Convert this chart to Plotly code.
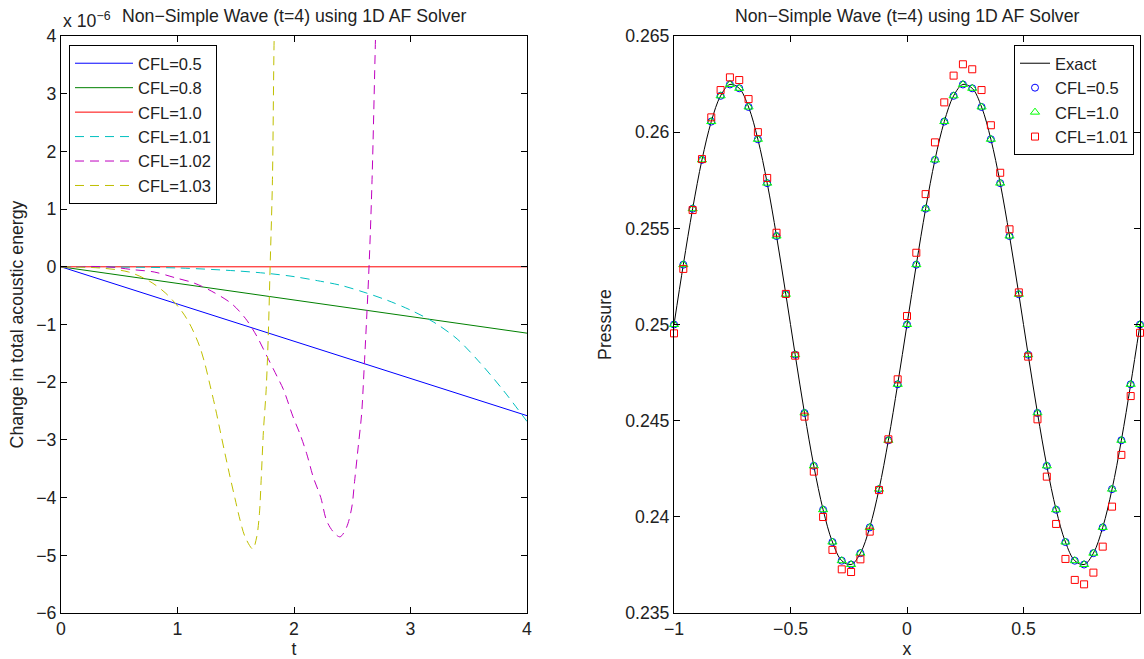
import plotly.graph_objects as go

# ---------------- Left panel data (values in units of 1e-6) ----------------
t_cfl05 = [0.0, 4.0]
e_cfl05 = [0.0, -2.58]
t_cfl08 = [0.0, 4.0]
e_cfl08 = [0.0, -1.15]
t_cfl10 = [0.0, 4.0]
e_cfl10 = [0.0, 0.0]
t_cfl101 = [0.0, 0.5, 1.0, 1.5, 1.8, 2.0, 2.2, 2.4, 2.6, 2.8, 3.0, 3.2, 3.4, 3.6, 3.8, 4.0]
e_cfl101 = [0.0, -0.005, -0.02, -0.07, -0.12, -0.17, -0.24, -0.32, -0.44, -0.58, -0.75, -0.96, -1.25, -1.67, -2.15, -2.68]
t_cfl102 = [0.0, 0.4, 0.62, 0.80, 0.98, 1.14, 1.29, 1.465, 1.585, 1.68, 1.77, 1.857, 1.91, 1.99, 2.05,
            2.109, 2.166, 2.23, 2.28, 2.34, 2.395, 2.45, 2.495, 2.52, 2.55, 2.58, 2.60, 2.644, 2.67, 2.70, 2.72]
e_cfl102 = [0.0, 0.0, -0.05, -0.09, -0.19, -0.28, -0.42, -0.64, -0.90, -1.20, -1.56, -1.91, -2.13, -2.59, -2.89,
            -3.24, -3.65, -4.0, -4.4, -4.6, -4.68, -4.52, -4.18, -3.72, -3.14, -2.56, -1.84, 0.0, 1.51, 4.0, 5.5]
t_cfl103 = [0.0, 0.33, 0.58, 0.76, 0.90, 1.04, 1.115, 1.19, 1.235, 1.279, 1.322, 1.365, 1.408, 1.451, 1.494,
            1.537, 1.58, 1.646, 1.68, 1.703, 1.718, 1.738, 1.761, 1.78, 1.795, 1.815, 1.83, 1.85]
e_cfl103 = [0.0, -0.02, -0.09, -0.25, -0.46, -0.78, -1.03, -1.38, -1.68, -2.05, -2.42, -2.83, -3.24, -3.64, -4.02,
            -4.39, -4.68, -4.89, -4.68, -4.28, -3.70, -2.83, -2.13, -1.14, 0.0, 1.51, 4.0, 5.5]

# ---------------- Right panel data ----------------
x_nodes = [-1.0, -0.96, -0.92, -0.88, -0.84, -0.8, -0.76, -0.72, -0.68, -0.64, -0.6, -0.56, -0.52,
           -0.48, -0.44, -0.4, -0.36, -0.32, -0.28, -0.24, -0.2, -0.16, -0.12, -0.08, -0.04,
           0.0, 0.04, 0.08, 0.12, 0.16, 0.2, 0.24, 0.28, 0.32, 0.36, 0.4, 0.44, 0.48,
           0.52, 0.56, 0.6, 0.64, 0.68, 0.72, 0.76, 0.8, 0.84, 0.88, 0.92, 0.96, 1.0]
exact_p = [0.25, 0.25311, 0.25602, 0.25856, 0.26055, 0.26189, 0.26248, 0.26228, 0.26131, 0.25963,
           0.25735, 0.25460, 0.25157, 0.24843, 0.24540, 0.24265, 0.24037, 0.23869, 0.23772, 0.23752,
           0.23811, 0.23945, 0.24144, 0.24398, 0.24689,
           0.25, 0.25311, 0.25602, 0.25856, 0.26055, 0.26189, 0.26248, 0.26228, 0.26131, 0.25963,
           0.25735, 0.25460, 0.25157, 0.24843, 0.24540, 0.24265, 0.24037, 0.23869, 0.23772, 0.23752,
           0.23811, 0.23945, 0.24144, 0.24398, 0.24689, 0.25]
cfl05_p = list(exact_p)
cfl10_p = list(exact_p)
cfl101_p = [0.24954, 0.25289, 0.25595, 0.25860, 0.26077, 0.26219, 0.26285, 0.26271, 0.26172, 0.26000,
            0.25762, 0.25477, 0.25159, 0.24838, 0.24521, 0.24235, 0.23999, 0.23828, 0.23727, 0.23713,
            0.23779, 0.23923, 0.24139, 0.24403, 0.24715,
            0.25044, 0.25373, 0.25678, 0.25947, 0.26155, 0.26294, 0.26353, 0.26327, 0.26219, 0.26036,
            0.25789, 0.25495, 0.25167, 0.24833, 0.24507, 0.24209, 0.23963, 0.23781, 0.23672, 0.23649,
            0.23710, 0.23845, 0.24053, 0.24322, 0.24628, 0.24957]

FONT = "Liberation Sans, Arial, Helvetica, sans-serif"
FS = 17.7
LFS = 16.5
TXT = "#222222"

W, H = 1144, 659
ML, MR, MT, MB = 61, 4, 36, 46
PW = W - ML - MR
PH = H - MT - MB

def px_x(p):
    return (p - ML) / PW

def px_y(p):
    return 1 - (p - MT) / PH

fig = go.Figure()

dash = "9px,6px"
left = [
    (t_cfl05, e_cfl05, "CFL=0.5", "rgb(0,0,255)", "solid"),
    (t_cfl08, e_cfl08, "CFL=0.8", "rgb(0,128,0)", "solid"),
    (t_cfl10, e_cfl10, "CFL=1.0", "rgb(255,0,0)", "solid"),
    (t_cfl101, e_cfl101, "CFL=1.01", "rgb(0,191,191)", dash),
    (t_cfl102, e_cfl102, "CFL=1.02", "rgb(191,0,191)", dash),
    (t_cfl103, e_cfl103, "CFL=1.03", "rgb(191,191,0)", dash),
]
for tx, ey, name, col, ds in left:
    fig.add_trace(go.Scatter(x=tx, y=ey, name=name, mode="lines",
                             line=dict(color=col, width=1, dash=ds, shape="spline", smoothing=0.9),
                             xaxis="x", yaxis="y", legend="legend"))

fig.add_trace(go.Scatter(x=x_nodes, y=exact_p, name="Exact", mode="lines",
                         line=dict(color="black", width=1, shape="spline", smoothing=1.0),
                         xaxis="x2", yaxis="y2", legend="legend2"))
fig.add_trace(go.Scatter(x=x_nodes, y=cfl05_p, name="CFL=0.5", mode="markers",
                         marker=dict(symbol="circle-open", size=7, color="rgb(0,0,255)", line=dict(width=1)),
                         cliponaxis=False, xaxis="x2", yaxis="y2", legend="legend2"))
fig.add_trace(go.Scatter(x=x_nodes, y=cfl10_p, name="CFL=1.0", mode="markers",
                         marker=dict(symbol="triangle-up-open", size=8, color="rgb(0,255,0)", line=dict(width=1)),
                         cliponaxis=False, xaxis="x2", yaxis="y2", legend="legend2"))
fig.add_trace(go.Scatter(x=x_nodes, y=cfl101_p, name="CFL=1.01", mode="markers",
                         marker=dict(symbol="square-open", size=7, color="rgb(255,0,0)", line=dict(width=1)),
                         cliponaxis=False, xaxis="x2", yaxis="y2", legend="legend2"))

axis_common = dict(showline=True, linecolor="black", linewidth=1, mirror="ticks",
                   ticks="inside", ticklen=6, tickwidth=1, tickcolor="black",
                   showgrid=False, zeroline=False,
                   tickfont=dict(family=FONT, size=FS, color=TXT))

d1 = [0, px_x(527)]
d2 = [px_x(674), 1.0]

fig.update_layout(
    width=W, height=H,
    margin=dict(l=ML, r=MR, t=MT, b=MB, autoexpand=False),
    paper_bgcolor="white", plot_bgcolor="white",
    font=dict(family=FONT, size=FS, color=TXT),
    showlegend=True,
    xaxis=dict(domain=d1, range=[0, 4], dtick=1, anchor="y",
               title=dict(text="t", standoff=2, font=dict(family=FONT, size=FS, color=TXT)),
               **axis_common),
    yaxis=dict(domain=[0, 1], range=[-6, 4], dtick=1, anchor="x",
               title=dict(text="Change in total acoustic energy", standoff=8,
                          font=dict(family=FONT, size=FS, color=TXT)),
               **axis_common),
    xaxis2=dict(domain=d2, range=[-1, 1], dtick=0.5, anchor="y2",
                title=dict(text="x", standoff=2, font=dict(family=FONT, size=FS, color=TXT)),
                **axis_common),
    yaxis2=dict(domain=[0, 1], range=[0.235, 0.265], dtick=0.005, anchor="x2",
                title=dict(text="Pressure", standoff=8, font=dict(family=FONT, size=FS, color=TXT)),
                **axis_common),
    legend=dict(x=px_x(69), y=px_y(45), xanchor="left", yanchor="top",
                bgcolor="white", bordercolor="black", borderwidth=1,
                itemwidth=58, tracegroupgap=0,
                font=dict(family=FONT, size=LFS, color=TXT)),
    legend2=dict(x=px_x(1134), y=px_y(45), xanchor="right", yanchor="top",
                 bgcolor="white", bordercolor="black", borderwidth=1,
                 font=dict(family=FONT, size=LFS, color=TXT)),
    annotations=[
        dict(text="Non\u2212Simple Wave (t=4) using 1D AF Solver", xref="paper", yref="paper",
             x=(d1[0] + d1[1]) / 2, y=px_y(16), xanchor="center", yanchor="middle",
             showarrow=False, font=dict(family=FONT, size=FS, color=TXT)),
        dict(text="Non\u2212Simple Wave (t=4) using 1D AF Solver", xref="paper", yref="paper",
             x=(d2[0] + d2[1]) / 2, y=px_y(16), xanchor="center", yanchor="middle",
             showarrow=False, font=dict(family=FONT, size=FS, color=TXT)),
        dict(text="x 10<sup>\u22126</sup>", xref="paper", yref="paper",
             x=px_x(61), y=px_y(20), xanchor="left", yanchor="middle",
             showarrow=False, font=dict(family=FONT, size=FS, color=TXT)),
    ],
)

fig.write_html("out.html")
